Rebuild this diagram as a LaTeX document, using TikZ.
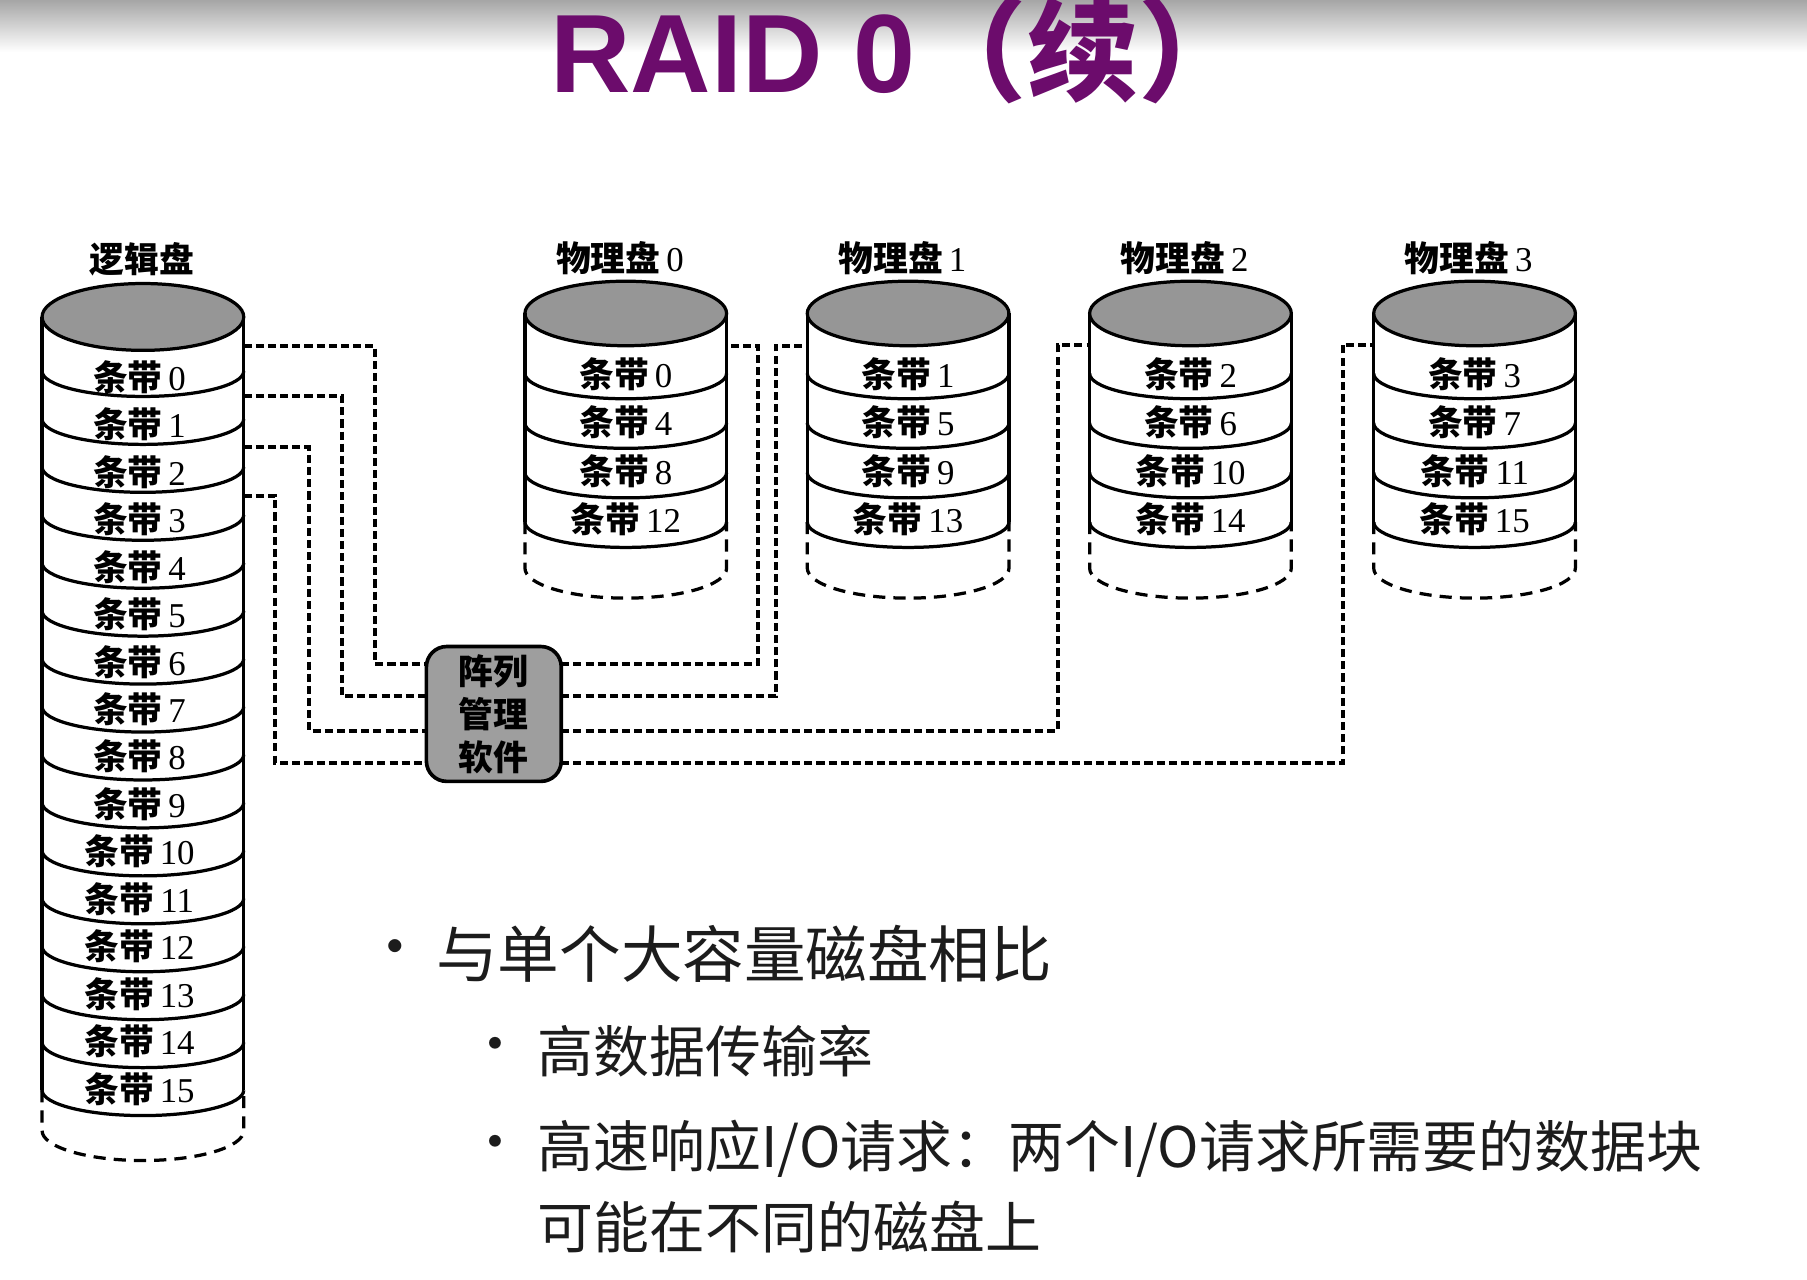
\documentclass[tikz,border=0pt]{standalone}
\usepackage{fontspec}
\setmainfont{Liberation Serif}
\newfontfamily\cjk{Noto Sans CJK SC}
\newfontfamily\titlefont{Liberation Sans}
\definecolor{titlepurple}{RGB}{108,12,108}
\definecolor{diskgray}{RGB}{150,150,150}
\definecolor{boxgray}{RGB}{158,158,158}
\definecolor{bodytext}{RGB}{28,28,28}

\begin{document}
\begin{tikzpicture}[
    disk/.style={line width=0.8pt},
    stripe/.style={inner sep=0pt, font=\fontsize{8.6}{10}\selectfont},
    disklabel/.style={inner sep=0pt, font=\fontsize{8.6}{10}\selectfont},
    mgrbox/.style={draw, line width=0.9pt, fill=boxgray, rounded corners=5pt,
        minimum width=1.17cm, minimum height=1.17cm, inner sep=0pt, align=center,
        font=\cjk\bfseries\fontsize{8.6}{10.6}\selectfont},
    link/.style={line width=1pt, dash pattern=on 2pt off 1pt},
    bullet/.style={inner sep=0pt, text=bodytext}
]
    \useasboundingbox (0,0) rectangle (15.68,-11.10);
    \fill[white] (0,0) rectangle (15.68,-11.10);

    % Top bar
    \shade[top color=gray!70, bottom color=white] (0,0) rectangle (15.68,-0.45);

    % Title
    \node[anchor=base west, inner sep=0pt, text=titlepurple,
        font=\bfseries\fontsize{27.5}{31}\selectfont] (title) at (4.77,-0.80)
        {{\titlefont RAID 0}{\cjk （续）}};

    % Logical disk
    \node[disklabel] (lname) at (1.23,-2.25) {{\cjk\bfseries 逻辑盘}};
    \draw[disk, fill=diskgray] (1.24,-2.75) ellipse [x radius=0.875, y radius=0.29];
    \draw[disk] (0.365,-2.75) -- (0.365,-9.46) (2.115,-2.75) -- (2.115,-9.46);
    \foreach \k in {0,...,15} {
        \draw[disk] (0.365,{-3.22-0.416*\k}) arc[start angle=180, end angle=360, x radius=0.875, y radius=0.22];
        \node[stripe] (ls\k) at (1.21,{-3.27-0.412*\k}) {{\cjk\bfseries 条带}\,\k};
    }
    \draw[disk, densely dashed] (0.365,-9.46) -- (0.365,-9.81)
        arc[start angle=180, end angle=360, x radius=0.875, y radius=0.26] -- (2.115,-9.46);

    % Physical disks
    \foreach \d/\cx in {0/5.43, 1/7.88, 2/10.33, 3/12.795} {
        \node[disklabel] (pname\d) at (\cx-0.05,-2.24) {{\cjk\bfseries 物理盘}\,\d};
        \draw[disk, fill=diskgray] (\cx,-2.72) ellipse [x radius=0.875, y radius=0.28];
        \draw[disk] (\cx-0.875,-2.72) -- (\cx-0.875,-4.53) (\cx+0.875,-2.72) -- (\cx+0.875,-4.53);
        \foreach \j in {0,...,3} {
            \pgfmathtruncatemacro\s{\d+4*\j}
            \draw[disk] (\cx-0.875,{-3.24-0.43*\j}) arc[start angle=180, end angle=360, x radius=0.875, y radius=0.22];
            \node[stripe] (ps\s) at (\cx,{-3.245-0.42*\j}) {{\cjk\bfseries 条带}\,\s};
        }
        \draw[disk, densely dashed] (\cx-0.875,-4.53) -- (\cx-0.875,-4.93)
            arc[start angle=180, end angle=360, x radius=0.875, y radius=0.26] -- (\cx+0.875,-4.53);
    }

    % Array management software
    \node[mgrbox] (amm) at (4.285,-6.195) {阵列\\管理\\软件};

    % Link ends
    \coordinate (ld0) at (2.115,-3.00);
    \coordinate (ld1) at (2.115,-3.44);
    \coordinate (ld2) at (2.115,-3.88);
    \coordinate (ld3) at (2.115,-4.30);
    \coordinate (pd0) at (6.305,-3.00);
    \coordinate (pd1) at (7.005,-3.00);
    \coordinate (pd2) at (9.455,-2.99);
    \coordinate (pd3) at (11.92,-2.99);
    \foreach \i/\y in {1/-5.76, 2/-6.04, 3/-6.34, 4/-6.62} {
        \coordinate (bl\i) at (3.70,\y);
        \coordinate (br\i) at (4.87,\y);
    }

    % Links: logical disk to software
    \draw[link] (ld0) -- ++(1.135,0) |- (bl1);
    \draw[link] (ld1) -- ++(0.855,0) |- (bl2);
    \draw[link] (ld2) -- ++(0.565,0) |- (bl3);
    \draw[link] (ld3) -- ++(0.275,0) |- (bl4);

    % Links: software to physical disks
    \draw[link] (br1) -- ++(1.71,0) |- (pd0);
    \draw[link] (br2) -- ++(1.86,0) |- (pd1);
    \draw[link] (br3) -- ++(4.31,0) |- (pd2);
    \draw[link] (br4) -- ++(6.78,0) |- (pd3);

    % Bullets
    \node[bullet, font=\cjk\fontsize{15.2}{18}\selectfont] (dot1) at (3.43,-8.28) {•};
    \node[bullet, anchor=west, font=\cjk\fontsize{15.2}{18}\selectfont] (item1) at (3.78,-8.28) {与单个大容量磁盘相比};
    \node[bullet, font=\cjk\fontsize{13.8}{16}\selectfont] (dot2) at (4.30,-9.12) {•};
    \node[bullet, anchor=west, font=\cjk\fontsize{13.8}{16}\selectfont] (item2) at (4.66,-9.12) {高数据传输率};
    \node[bullet, font=\cjk\fontsize{13.8}{16}\selectfont] (dot3) at (4.30,-9.97) {•};
    \node[bullet, anchor=west, font=\cjk\fontsize{13.8}{16}\selectfont] (item3) at (4.66,-9.97) {高速响应I/O请求：两个I/O请求所需要的数据块};
    \node[bullet, anchor=west, font=\cjk\fontsize{13.8}{16}\selectfont] (item3b) at (4.66,-10.65) {可能在不同的磁盘上};
\end{tikzpicture}
\end{document}
